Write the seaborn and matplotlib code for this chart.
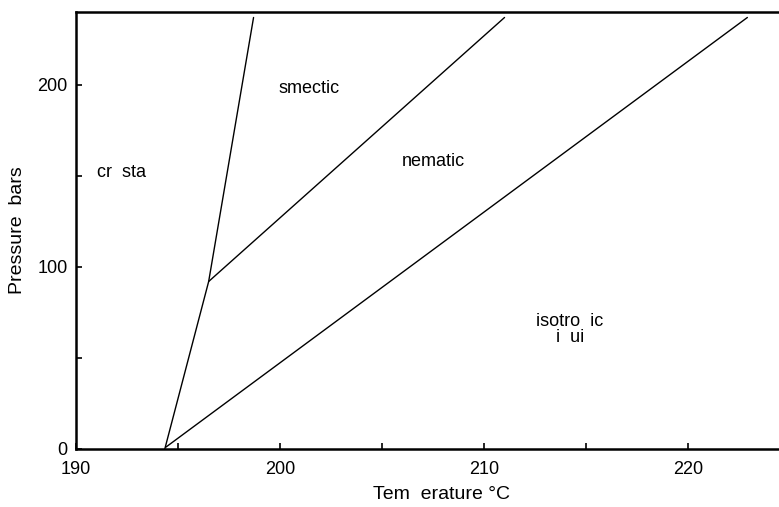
import matplotlib
matplotlib.use("Agg")
import matplotlib.pyplot as plt
import seaborn as sns
import pandas as pd
from matplotlib.ticker import MultipleLocator

# Phase boundaries (temperature in °C, pressure in bars)
crystal_T = [194.35, 196.5, 198.7]
crystal_P = [0.0, 92.0, 237.0]
smectic_T = [196.5, 211.0]
smectic_P = [92.0, 237.0]
isotropic_T = [194.4, 222.9]
isotropic_P = [1.0, 237.0]

phase_names = ["cr  sta", "smectic", "nematic", "isotro  ic\ni  ui"]
phase_T = [192.25, 201.4, 207.5, 214.2]
phase_P = [152.0, 198.0, 158.0, 65.5]

x_ticks = [190, 200, 210, 220]
y_ticks = [0, 100, 200]

sns.set_theme(style="white")
plt.rcParams["font.family"] = ["Liberation Sans", "DejaVu Sans"]
plt.rcParams["text.color"] = "black"
plt.rcParams["axes.labelcolor"] = "black"

boundaries = pd.concat([
    pd.DataFrame({"T": crystal_T, "P": crystal_P, "edge": "crystal"}),
    pd.DataFrame({"T": smectic_T, "P": smectic_P, "edge": "smectic"}),
    pd.DataFrame({"T": isotropic_T, "P": isotropic_P, "edge": "isotropic"}),
])

fig = plt.figure(figsize=(7.79, 5.07), dpi=100)
ax = fig.add_axes([0.0976, 0.1144, 0.9024, 0.8619])

sns.lineplot(data=boundaries, x="T", y="P", units="edge", estimator=None,
             sort=False, color="black", linewidth=1.0, ax=ax)

for name, t, p in zip(phase_names, phase_T, phase_P):
    ax.text(t, p, name, ha="center", va="center", fontsize=13,
            linespacing=0.95, color="black")

ax.set_xlim(190, 224.45)
ax.set_ylim(0, 240)
ax.set_xticks(x_ticks)
ax.set_yticks(y_ticks)
ax.xaxis.set_minor_locator(MultipleLocator(5))
ax.yaxis.set_minor_locator(MultipleLocator(50))
ax.tick_params(which="both", direction="in", length=4, width=1.2,
               colors="black", labelsize=13, bottom=True, left=True)
ax.tick_params(axis="x", pad=9)
ax.tick_params(axis="y", pad=6)

for side in ["left", "bottom", "top"]:
    ax.spines[side].set_visible(True)
    ax.spines[side].set_linewidth(1.8)
    ax.spines[side].set_color("black")
ax.spines["right"].set_visible(False)

ax.set_xlabel("Tem  erature °C", fontsize=14, color="black")
ax.set_ylabel("Pressure  bars", fontsize=14, color="black", labelpad=8)
ax.xaxis.set_label_coords(0.52, -0.085)

fig.savefig("out.png", dpi=100)
